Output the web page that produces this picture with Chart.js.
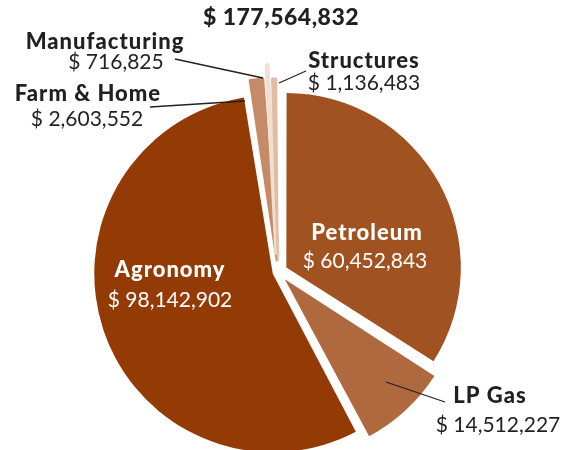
<!DOCTYPE html>
<html>
<head>
<meta charset="utf-8">
<script src="https://cdn.jsdelivr.net/npm/chart.js@4"></script>
<style>
  html, body { margin: 0; padding: 0; background: #fff; }
  #wrap { width: 564px; height: 450px; }
</style>
</head>
<body>
<div id="wrap"><canvas id="pie" width="564" height="450"></canvas></div>
<script>
const categories = ['Petroleum', 'LP Gas', 'Agronomy', 'Farm & Home', 'Manufacturing', 'Structures'];
const sales = [60452843, 14512227, 98142902, 2603552, 716825, 1136483];

const sliceColors = ['#A15221', '#B0683E', '#943A04', '#C58B68', '#F1DFD2', '#E0BCA2'];
const sliceOffsets = [38, 40, 22, 44, 70, 42];
// thin slivers get trimmed by their offset, so give them a same-colour edge
const sliceBorders = [0, 0, 0, 2, 5, 2];

// where each name/value pair sits (x = centre of text, baselines)
const labelSpots = [
  { x: 367, nameY: 240, valueX: 365, valueY: 268, inside: true },
  { x: 490, nameY: 403, valueX: 498, valueY: 432, line: [386, 382, 445, 402] },
  { x: 170, nameY: 277, valueX: 170, valueY: 307, inside: true },
  { x: 88, nameY: 101, valueX: 87, valueY: 126, line: [150, 107, 245, 101] },
  { x: 105, nameY: 49, valueX: 116, valueY: 69, line: [175, 59, 263, 78] },
  { x: 364, nameY: 68, valueX: 364, valueY: 90, line: [306, 71, 279, 83] }
];

const dark = '#231F20';
const money = v => '$ ' + v.toLocaleString('en-US');

const labelPlugin = {
  id: 'sliceLabels',
  afterDraw(chart) {
    const ctx = chart.ctx;
    const total = sales.reduce((a, b) => a + b, 0);
    ctx.save();
    ctx.textAlign = 'center';
    ctx.textBaseline = 'alphabetic';

    ctx.fillStyle = dark;
    ctx.font = '900 23px Lato';
    ctx.letterSpacing = '0.5px';
    ctx.fillText(money(total), 281, 25);

    categories.forEach((name, i) => {
      const spot = labelSpots[i];
      if (spot.line) {
        ctx.strokeStyle = dark;
        ctx.lineWidth = 1.3;
        ctx.beginPath();
        ctx.moveTo(spot.line[0], spot.line[1]);
        ctx.lineTo(spot.line[2], spot.line[3]);
        ctx.stroke();
      }
      ctx.fillStyle = spot.inside ? '#ffffff' : dark;
      ctx.font = '900 22px Lato';
      ctx.letterSpacing = '1px';
      ctx.fillText(name, spot.x, spot.nameY);
      ctx.font = '21px Lato';
      ctx.letterSpacing = '0px';
      ctx.fillText(money(sales[i]), spot.valueX, spot.valueY);
    });
    ctx.restore();
  }
};

new Chart(document.getElementById('pie'), {
  type: 'pie',
  data: {
    labels: categories,
    datasets: [{
      data: sales,
      backgroundColor: sliceColors,
      borderColor: sliceColors,
      borderWidth: sliceBorders,
      offset: sliceOffsets,
      radius: 173
    }]
  },
  options: {
    responsive: false,
    animation: false,
    events: [],
    layout: { padding: { left: 0, right: 8, top: 94, bottom: 0 }, autoPadding: false },
    plugins: {
      legend: { display: false },
      tooltip: { enabled: false }
    }
  },
  plugins: [labelPlugin]
});
</script>
</body>
</html>
